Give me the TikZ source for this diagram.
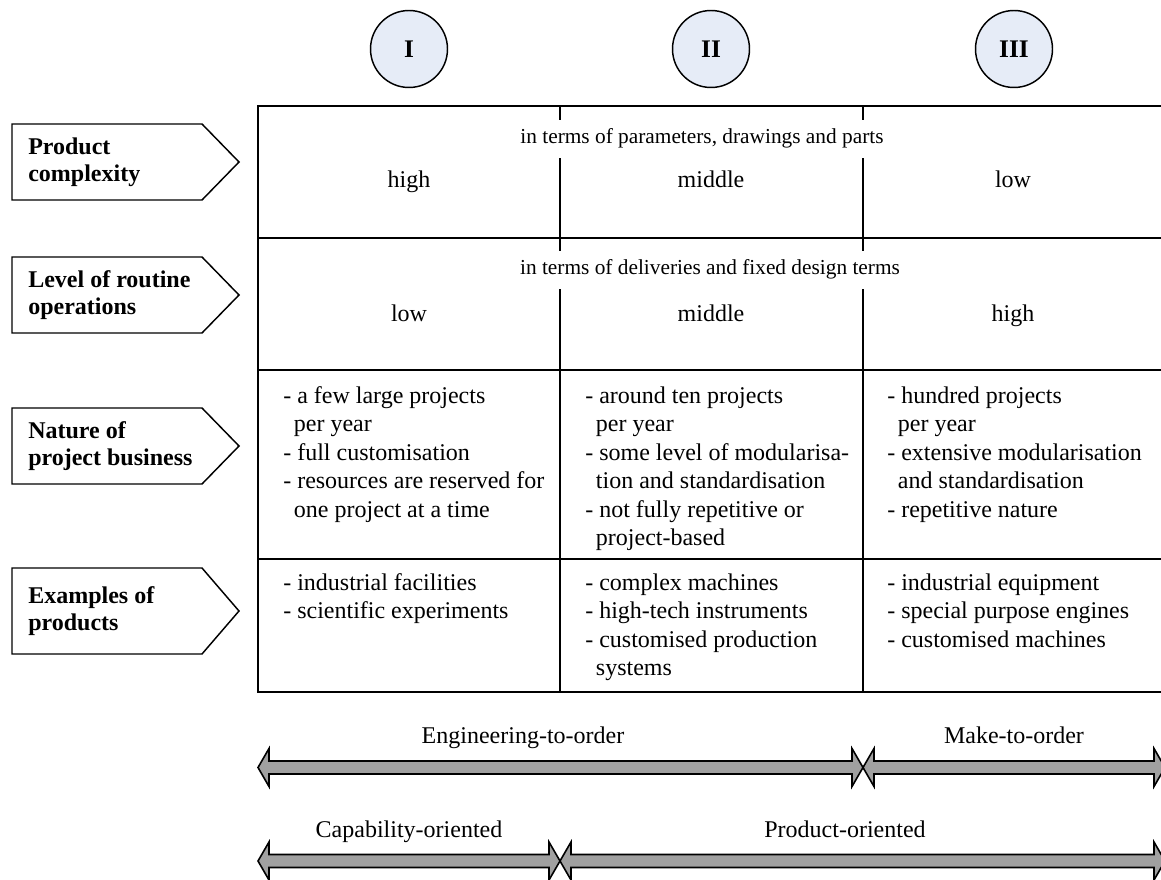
\documentclass[tikz,border=0pt]{standalone}
\usepackage{fontspec}
\setmainfont{Liberation Serif}
\definecolor{circfill}{HTML}{E6ECF7}
\definecolor{arrowgray}{HTML}{A0A0A0}
\newcommand{\fatarrow}[3]{% xl, xr, y
  \draw[fat] (#1,#3) -- ({#1+11},{#3-19}) -- ({#1+11},{#3-6.5}) -- ({#2-11},{#3-6.5})
    -- ({#2-11},{#3-19}) -- (#2,#3) -- ({#2-11},{#3+19}) -- ({#2-11},{#3+6.5})
    -- ({#1+11},{#3+6.5}) -- ({#1+11},{#3+19}) -- cycle;}
\newcommand{\pentagon}[3]{% top, bottom, mid
  \draw[pent] (12,#1) -- (202,#1) -- (239,#3) -- (202,#2) -- (12,#2) -- cycle;}
\begin{document}
\begin{tikzpicture}[x=0.75pt,y=-0.75pt,
  tline/.style={line width=1.5pt},
  cline/.style={line width=1.1pt},
  txt/.style={font=\fontsize{18}{21.4}\selectfont, inner sep=0pt},
  smalltxt/.style={font=\fontsize{16}{19}\selectfont, fill=white, inner xsep=2pt, inner ysep=7pt},
  body/.style={txt, align=left, anchor=north west},
  lbl/.style={font=\fontsize{18}{20.5}\selectfont\bfseries, align=left, anchor=west, inner sep=0pt},
  pent/.style={draw, line width=1.1pt, fill=white, line join=miter},
  numc/.style={circle, draw, line width=1.1pt, fill=circfill, minimum size=57.75pt, inner sep=0pt,
    font=\fontsize{19}{21}\selectfont\bfseries},
  fat/.style={draw, line width=1.2pt, fill=arrowgray, line join=miter}
]
\useasboundingbox (0,0) rectangle (1161,880);

% circles
\node[numc] (c1) at (409,49) {I};
\node[numc] (c2) at (711,49) {II};
\node[numc] (c3) at (1014,49) {III};

% table
\draw[tline] (1170,106) -- (258,106) -- (258,692) -- (1170,692);
\foreach \yy in {238,370,559} \draw[tline] (258,\yy) -- (1170,\yy);
\draw[cline] (560,106) -- (560,692);
\draw[cline] (863,106) -- (863,692);

% row 1
\node[smalltxt, anchor=base] (s1) at (702,144) {in terms of parameters, drawings and parts};
\node[txt, anchor=base] (r1a) at (409,188) {high};
\node[txt, anchor=base] (r1b) at (711,188) {middle};
\node[txt, anchor=base] (r1c) at (1013,188) {low};

% row 2
\node[smalltxt, anchor=base] (s2) at (710,275) {in terms of deliveries and fixed design terms};
\node[txt, anchor=base] (r2a) at (409,322) {low};
\node[txt, anchor=base] (r2b) at (711,322) {middle};
\node[txt, anchor=base] (r2c) at (1013,322) {high};

% row 3
\node[body] (r3a) at (283,383) {\strut- a few large projects\\\hspace*{8pt}per year\\- full customisation\\- resources are reserved for\\\hspace*{8pt}one project at a time};
\node[body] (r3b) at (585,383) {\strut- around ten projects\\\hspace*{8pt}per year\\- some level of modularisa-\\\hspace*{8pt}tion and standardisation\\- not fully repetitive or\\\hspace*{8pt}project-based};
\node[body] (r3c) at (887,383) {\strut- hundred projects\\\hspace*{8pt}per year\\- extensive modularisation\\\hspace*{8pt}and standardisation\\- repetitive nature};

% row 4
\node[body] (r4a) at (283,570) {\strut- industrial facilities\\- scientific experiments};
\node[body] (r4b) at (585,570) {\strut- complex machines\\- high-tech instruments\\- customised production\\\hspace*{8pt}systems};
\node[body] (r4c) at (887,570) {\strut- industrial equipment\\- special purpose engines\\- customised machines};

% left labels
\pentagon{124}{200}{162}
\node[lbl] (l1) at (28,162) {Product\\complexity};
\pentagon{257}{333}{295}
\node[lbl] (l2) at (28,295) {Level of routine\\operations};
\pentagon{408}{484}{446}
\node[lbl] (l3) at (28,446) {Nature of\\project business};
\pentagon{568}{654}{611}
\node[lbl] (l4) at (28,611) {Examples of\\products};

% bottom arrows
\fatarrow{258}{863}{767.5}
\fatarrow{863}{1165}{767.5}
\node[txt, anchor=base] (eto) at (523,743) {Engineering-to-order};
\node[txt, anchor=base] (mto) at (1014,743) {Make-to-order};

\fatarrow{258}{560}{861}
\fatarrow{560}{1165}{861}
\node[txt, anchor=base] (cap) at (409,837) {Capability-oriented};
\node[txt, anchor=base] (prod) at (845,837) {Product-oriented};
\end{tikzpicture}
\end{document}
